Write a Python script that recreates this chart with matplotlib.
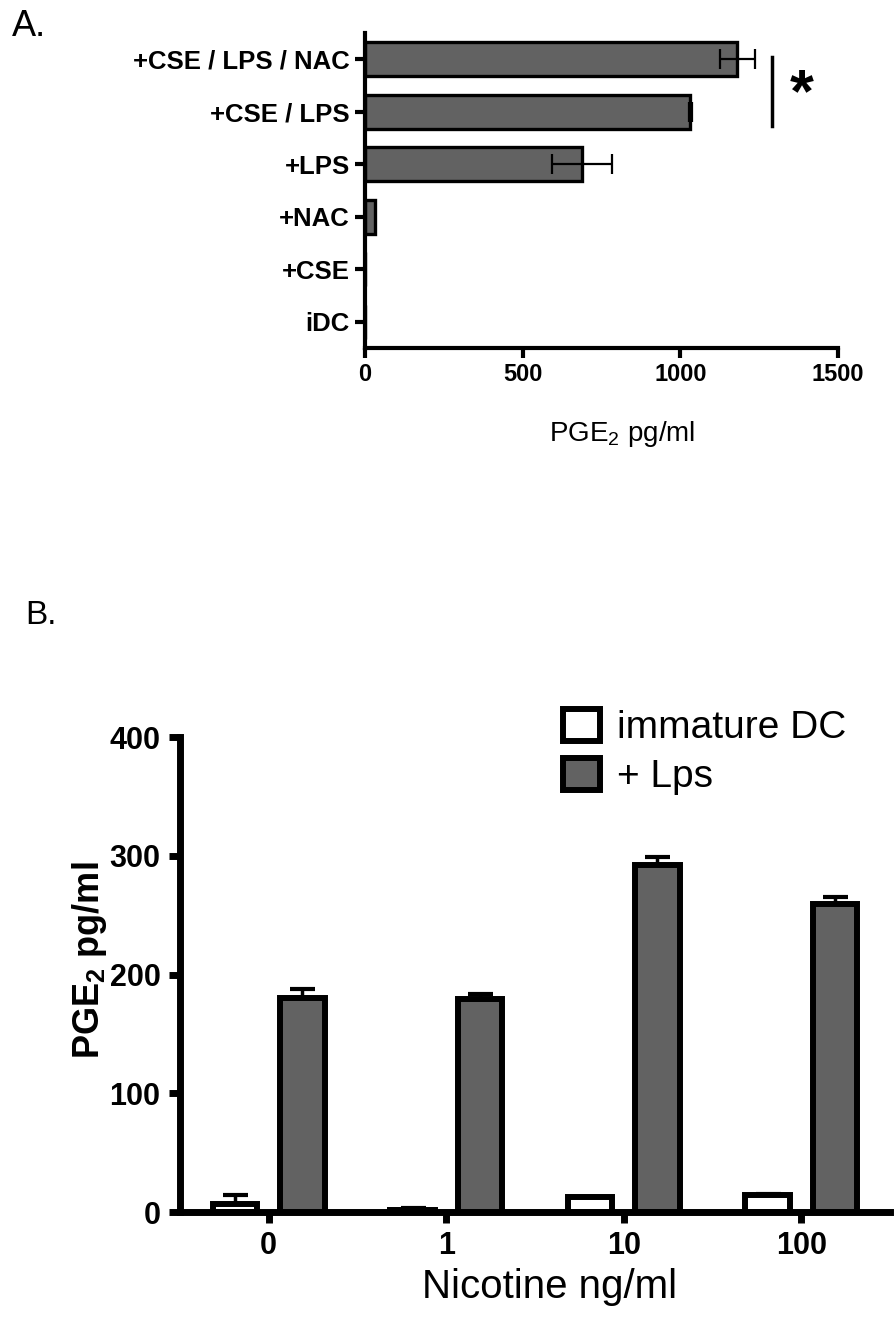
import matplotlib
matplotlib.use("Agg")
import matplotlib.pyplot as plt
from matplotlib.patches import Patch
import numpy as np

plt.rcParams['font.family'] = ['Liberation Sans', 'DejaVu Sans']
plt.rcParams['mathtext.fontset'] = 'custom'
plt.rcParams['mathtext.rm'] = 'Liberation Sans'
plt.rcParams['mathtext.bf'] = 'Liberation Sans:bold'

# panel A data (top to bottom)
a_labels = ['+CSE / LPS / NAC', '+CSE / LPS', '+LPS', '+NAC', '+CSE', 'iDC']
a_values = [1181, 1031, 687, 33, 0, 0]
a_errors = [55, 5, 95, 0, 0, 0]

# panel B data
b_groups = ['0', '1', '10', '100']
b_idc = [7, 2, 13, 14]
b_idc_err = [7, 1, 0, 1]
b_lps = [180, 179, 292, 259]
b_lps_err = [8, 5, 7, 6]

gray = '#626262'

fig = plt.figure(figsize=(8.95, 13.19), dpi=100)

# ---------- panel A ----------
axA = fig.add_axes([0.4078, 0.7362, 0.5285, 0.2388])
ypos = np.arange(len(a_labels))[::-1]
axA.barh(ypos, a_values, height=0.64, color=gray, edgecolor='black', linewidth=2.4, zorder=2)
for y, v, e in zip(ypos, a_values, a_errors):
    if e > 0:
        axA.errorbar(v, y, xerr=e, fmt='none', ecolor='black', elinewidth=1.6,
                     capsize=7, capthick=1.6, zorder=3)
axA.set_xlim(0, 1500)
axA.set_ylim(-0.5, 5.5)
axA.set_yticks(ypos)
axA.set_yticklabels(a_labels, fontsize=18.5, fontweight='bold')
axA.set_xticks([0, 500, 1000, 1500])
axA.set_xticklabels(['0', '500', '1000', '1500'], fontsize=17, fontweight='bold')
for s in ['top', 'right']:
    axA.spines[s].set_visible(False)
for s in ['left', 'bottom']:
    axA.spines[s].set_linewidth(3)
axA.tick_params(axis='both', width=3, length=7, pad=4)
axA.set_xlabel('PGE$_2$ pg/ml', fontsize=20)
axA.xaxis.set_label_coords(0.543, -0.225)
axA.xaxis.label.set_va('top')

# significance bracket
axA.plot([1291, 1291], [3.72, 5.04], color='black', linewidth=2.5, clip_on=False)
axA.text(1386, 4.3, '*', fontsize=44, fontweight='bold', ha='center', va='center')

fig.text(0.013, 0.993, 'A.', fontsize=26, va='top', ha='left')

# ---------- panel B ----------
axB = fig.add_axes([0.2011, 0.0811, 0.7933, 0.3601])
x = np.arange(len(b_groups))
off = 0.19
w = 0.25
axB.bar(x - off, b_idc, width=w, color='white', edgecolor='black', linewidth=4.3, zorder=2)
axB.bar(x + off, b_lps, width=w, color=gray, edgecolor='black', linewidth=4.3, zorder=2)
axB.errorbar(x - off, b_idc, yerr=[np.zeros(4), b_idc_err], fmt='none', ecolor='black',
             elinewidth=2.5, capsize=9, capthick=3, zorder=1)
axB.errorbar(x + off, b_lps, yerr=[np.zeros(4), b_lps_err], fmt='none', ecolor='black',
             elinewidth=2.5, capsize=9, capthick=3, zorder=1)
axB.set_xlim(-0.5, 3.5)
axB.set_ylim(0, 400)
axB.set_xticks(x)
axB.set_xticklabels(b_groups, fontsize=22, fontweight='bold')
axB.set_yticks([0, 100, 200, 300, 400])
axB.set_yticklabels(['0', '100', '200', '300', '400'], fontsize=22, fontweight='bold')
for s in ['top', 'right']:
    axB.spines[s].set_visible(False)
for s in ['left', 'bottom']:
    axB.spines[s].set_linewidth(5)
axB.tick_params(axis='both', width=5, length=8, pad=6)
axB.set_ylabel(r'PGE$_\mathbf{2}$ pg/ml', fontsize=26, fontweight='bold')
axB.yaxis.set_label_coords(-0.1, 0.53)
axB.set_xlabel('Nicotine ng/ml', fontsize=29)
axB.xaxis.set_label_coords(0.52, -0.118)
axB.xaxis.label.set_va('top')

handles = [Patch(facecolor='white', edgecolor='black', linewidth=4.3),
           Patch(facecolor=gray, edgecolor='black', linewidth=4.3)]
axB.legend(handles, ['immature DC', '+ Lps'], loc='upper left', bbox_to_anchor=(0.539, 1.06),
           frameon=False, fontsize=28, handlelength=0.95, handleheight=0.9,
           handletextpad=0.45, labelspacing=0.3, borderpad=0, borderaxespad=0)

fig.text(0.028, 0.545, 'B.', fontsize=24, va='top', ha='left')

fig.savefig('out.png', dpi=100)
